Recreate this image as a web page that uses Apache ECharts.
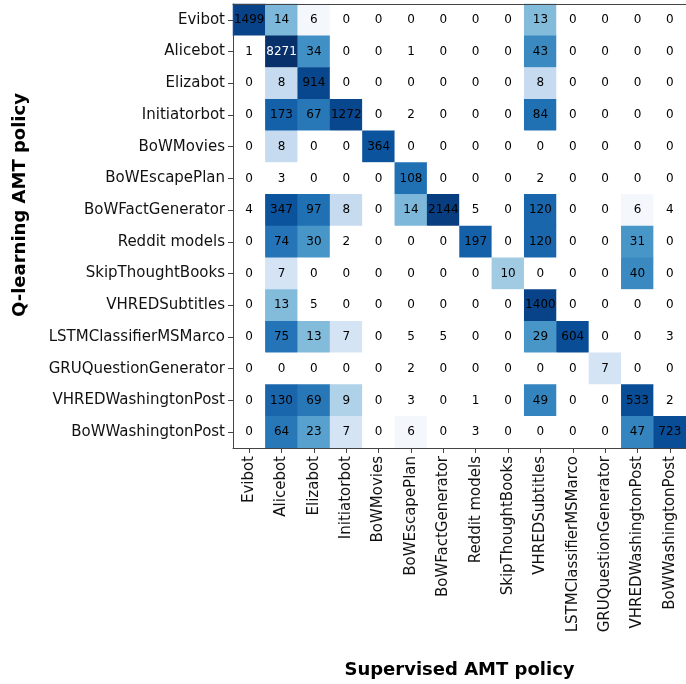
<!DOCTYPE html>
<html>
<head>
<meta charset="utf-8">
<script src="https://cdn.jsdelivr.net/npm/echarts@6/dist/echarts.min.js"></script>
<style>
html,body{margin:0;padding:0;background:#fff;}
#chart{width:686px;height:684px;}
</style>
</head>
<body>
<div id="chart"></div>
<script>
// Supervised AMT policy (columns)
const supervisedPolicies = ['Evibot','Alicebot','Elizabot','Initiatorbot','BoWMovies','BoWEscapePlan','BoWFactGenerator','Reddit models','SkipThoughtBooks','VHREDSubtitles','LSTMClassifierMSMarco','GRUQuestionGenerator','VHREDWashingtonPost','BoWWashingtonPost'];
// Q-learning AMT policy (rows)
const qlearningPolicies = ['Evibot','Alicebot','Elizabot','Initiatorbot','BoWMovies','BoWEscapePlan','BoWFactGenerator','Reddit models','SkipThoughtBooks','VHREDSubtitles','LSTMClassifierMSMarco','GRUQuestionGenerator','VHREDWashingtonPost','BoWWashingtonPost'];

const rowEvibot            = [1499, 14, 6, 0, 0, 0, 0, 0, 0, 13, 0, 0, 0, 0];
const rowAlicebot          = [1, 8271, 34, 0, 0, 1, 0, 0, 0, 43, 0, 0, 0, 0];
const rowElizabot          = [0, 8, 914, 0, 0, 0, 0, 0, 0, 8, 0, 0, 0, 0];
const rowInitiatorbot      = [0, 173, 67, 1272, 0, 2, 0, 0, 0, 84, 0, 0, 0, 0];
const rowBoWMovies         = [0, 8, 0, 0, 364, 0, 0, 0, 0, 0, 0, 0, 0, 0];
const rowBoWEscapePlan     = [0, 3, 0, 0, 0, 108, 0, 0, 0, 2, 0, 0, 0, 0];
const rowBoWFactGenerator  = [4, 347, 97, 8, 0, 14, 2144, 5, 0, 120, 0, 0, 6, 4];
const rowRedditModels      = [0, 74, 30, 2, 0, 0, 0, 197, 0, 120, 0, 0, 31, 0];
const rowSkipThoughtBooks  = [0, 7, 0, 0, 0, 0, 0, 0, 10, 0, 0, 0, 40, 0];
const rowVHREDSubtitles    = [0, 13, 5, 0, 0, 0, 0, 0, 0, 1400, 0, 0, 0, 0];
const rowLSTMClassifier    = [0, 75, 13, 7, 0, 5, 5, 0, 0, 29, 604, 0, 0, 3];
const rowGRUQuestionGen    = [0, 0, 0, 0, 0, 2, 0, 0, 0, 0, 0, 7, 0, 0];
const rowVHREDWashPost     = [0, 130, 69, 9, 0, 3, 0, 1, 0, 49, 0, 0, 533, 2];
const rowBoWWashPost       = [0, 64, 23, 7, 0, 6, 0, 3, 0, 0, 0, 0, 47, 723];

const matrix = [rowEvibot, rowAlicebot, rowElizabot, rowInitiatorbot, rowBoWMovies, rowBoWEscapePlan,
  rowBoWFactGenerator, rowRedditModels, rowSkipThoughtBooks, rowVHREDSubtitles, rowLSTMClassifier,
  rowGRUQuestionGen, rowVHREDWashPost, rowBoWWashPost];

let maxVal = 0;
matrix.forEach(r => r.forEach(v => { if (v > maxVal) maxVal = v; }));
const thresh = maxVal / 2;

const data = [];
matrix.forEach((row, i) => row.forEach((v, j) => {
  data.push({ value: [j, i, v], label: { color: v > thresh ? '#ffffff' : '#000000' } });
}));

const FONT = 'DejaVu Sans';
const AXIS_COLOR = '#444';
const chart = echarts.init(document.getElementById('chart'), null, { renderer: 'canvas' });
chart.setOption({
  animation: false,
  backgroundColor: '#ffffff',
  grid: { left: 233, top: 4, right: -5, bottom: 223, containLabel: false },
  xAxis: [{
    type: 'category',
    data: supervisedPolicies,
    position: 'bottom',
    z: 10,
    name: 'Supervised AMT policy',
    nameLocation: 'middle',
    nameGap: 213,
    nameTextStyle: { fontFamily: FONT, fontWeight: 'bold', fontSize: 18, color: '#000' },
    axisLine: { show: true, lineStyle: { color: AXIS_COLOR, width: 1 } },
    axisTick: { show: true, alignWithLabel: true, length: 5, lineStyle: { color: AXIS_COLOR } },
    axisLabel: { rotate: 90, margin: 8, fontFamily: FONT, fontSize: 15, color: '#111', interval: 0 },
    splitLine: { show: false },
    splitArea: { show: false }
  }, {
    type: 'category',
    data: supervisedPolicies,
    position: 'top',
    z: 10,
    axisLine: { show: true, lineStyle: { color: AXIS_COLOR, width: 1 } },
    axisTick: { show: false },
    axisLabel: { show: false },
    splitLine: { show: false }
  }],
  yAxis: {
    type: 'category',
    data: qlearningPolicies,
    inverse: true,
    z: 10,
    axisLine: { show: true, lineStyle: { color: AXIS_COLOR, width: 1 } },
    axisTick: { show: true, alignWithLabel: true, length: 5, lineStyle: { color: AXIS_COLOR } },
    axisLabel: { margin: 8, fontFamily: FONT, fontSize: 15, color: '#111', interval: 0 },
    splitLine: { show: false },
    splitArea: { show: false }
  },
  visualMap: {
    type: 'piecewise',
    show: false,
    dimension: 2,
    seriesIndex: 0,
    pieces: [
      { lte: 5, color: '#ffffff' },
      { gte: 6, lte: 6, color: '#f4f8fd' },
      { gte: 7, lte: 7, color: '#d4e4f4' },
      { gte: 8, lte: 8, color: '#c6dbef' },
      { gte: 9, lte: 9, color: '#b0d2e8' },
      { gte: 10, lte: 10, color: '#a0cbe2' },
      { gte: 11, lte: 13, color: '#83bbdb' },
      { gte: 14, lte: 19, color: '#7db8da' },
      { gte: 20, lte: 25, color: '#58a1cf' },
      { gte: 26, lte: 31, color: '#4896c8' },
      { gte: 32, lte: 37, color: '#4190c5' },
      { gte: 38, lte: 45, color: '#3a89c1' },
      { gte: 46, lte: 55, color: '#3484bf' },
      { gte: 56, lte: 72, color: '#2878b8' },
      { gte: 73, lte: 80, color: '#2474b7' },
      { gte: 81, lte: 110, color: '#2070b4' },
      { gte: 111, lte: 140, color: '#1966ad' },
      { gte: 141, lte: 250, color: '#1561a9' },
      { gte: 251, lte: 400, color: '#0b539d' },
      { gte: 401, lte: 800, color: '#084d96' },
      { gte: 801, lte: 1300, color: '#08478d' },
      { gte: 1301, lte: 1600, color: '#08438a' },
      { gte: 1601, lte: 3000, color: '#083e7f' },
      { gt: 3000, color: '#08306b' }
    ]
  },
  series: [{
    type: 'heatmap',
    xAxisIndex: 0,
    yAxisIndex: 0,
    data: data,
    itemStyle: { borderWidth: 0 },
    label: { show: true, fontFamily: FONT, fontSize: 12, formatter: p => String(p.value[2]) },
    emphasis: { disabled: true },
    z: 1
  }],
  graphic: [{
    type: 'text',
    x: 20,
    y: 205,
    rotation: Math.PI / 2,
    style: {
      text: 'Q-learning AMT policy',
      font: 'bold 18px "DejaVu Sans"',
      fill: '#000',
      textAlign: 'center',
      textVerticalAlign: 'middle'
    }
  }]
});
</script>
</body>
</html>
